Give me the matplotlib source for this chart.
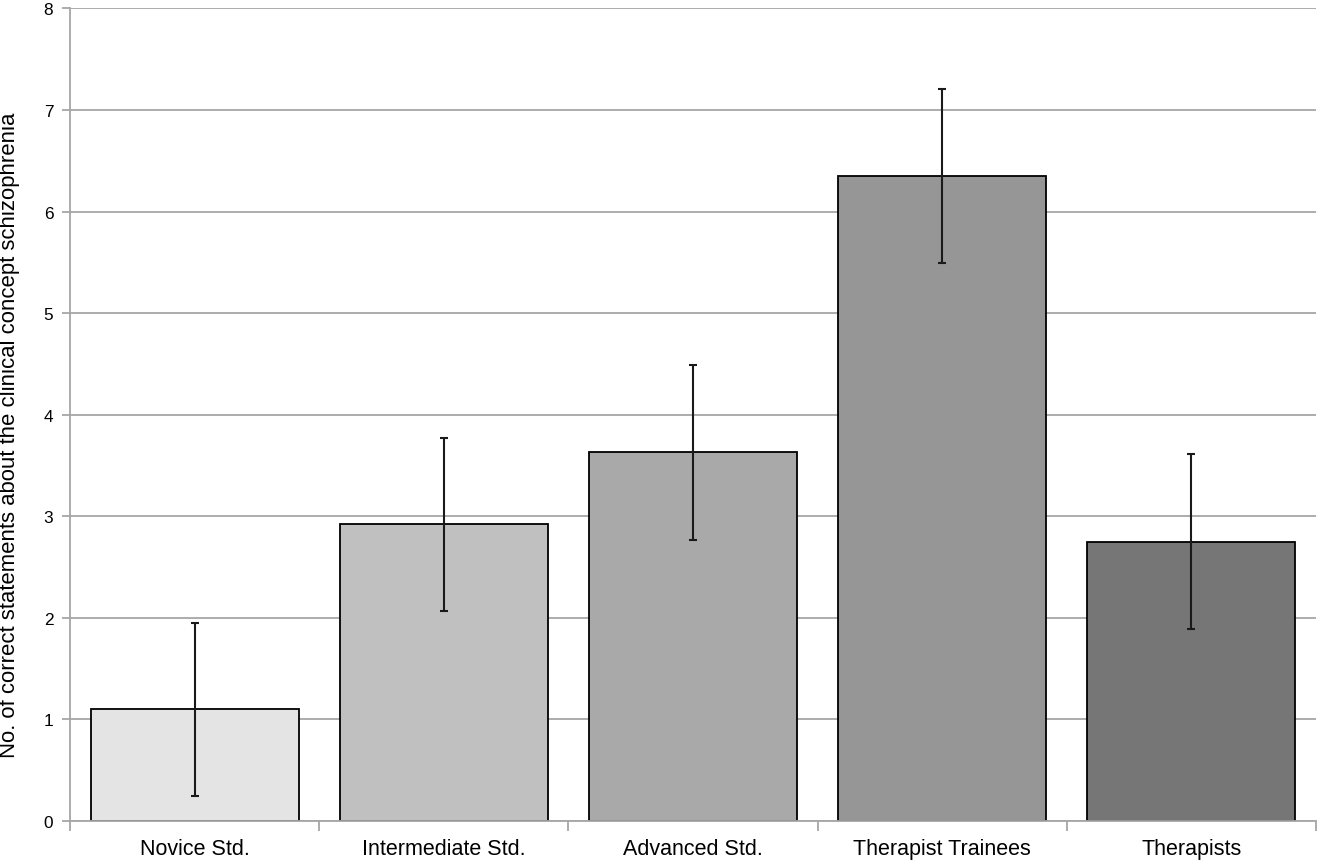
import matplotlib
matplotlib.use("Agg")
import matplotlib.pyplot as plt
import numpy as np

categories = ["Novice Std.", "Intermediate Std.", "Advanced Std.", "Therapist Trainees", "Therapists"]
means = [1.10, 2.92, 3.63, 6.35, 2.75]
errors = [0.85, 0.855, 0.86, 0.86, 0.86]
colors = ["#e4e4e4", "#c0c0c0", "#a9a9a9", "#969696", "#767676"]
yticks = [0, 1, 2, 3, 4, 5, 6, 7, 8]

plt.rcParams['font.family'] = ['Liberation Sans', 'DejaVu Sans']

fig = plt.figure(figsize=(13.21, 8.62), dpi=100)
ax = fig.add_axes([0.053, 0.0464, 0.9432, 0.9426])

x = np.arange(len(categories))
ax.set_axisbelow(True)
ax.yaxis.grid(True, color="#a6a6a6", linewidth=1.3)
ax.bar(x, means, width=0.835, color=colors, edgecolor="black", linewidth=1.3, zorder=2)
ax.errorbar(x, means, yerr=errors, fmt="none", ecolor="#1a1a1a", elinewidth=1.5,
            capsize=3, capthick=1.5, zorder=3)

ax.set_xlim(-0.5, len(categories) - 0.5)
ax.set_ylim(0, 8)
ax.set_yticks(yticks)
ax.set_yticklabels([str(v) for v in yticks], fontsize=12.4)

ax.set_xticks(x)
ax.set_xticklabels(categories, fontsize=15.5)
ax.tick_params(axis="x", which="major", length=0, pad=12)
ax.set_xticks(np.arange(-0.5, len(categories) + 0.5, 1), minor=True)
ax.tick_params(axis="x", which="minor", length=7, color="#a6a6a6", width=1.3)
ax.tick_params(axis="y", length=6, color="#a6a6a6", width=1.3, pad=6)

for s in ["top", "right"]:
    ax.spines[s].set_visible(False)
for s in ["left", "bottom"]:
    ax.spines[s].set_color("#a6a6a6")
    ax.spines[s].set_linewidth(1.3)

ax.set_ylabel("No. of correct statements about the clinical concept schizophrenia", fontsize=15.9)
ax.yaxis.set_label_coords(-0.0405, 0.476)

fig.savefig("out.png", dpi=100)
